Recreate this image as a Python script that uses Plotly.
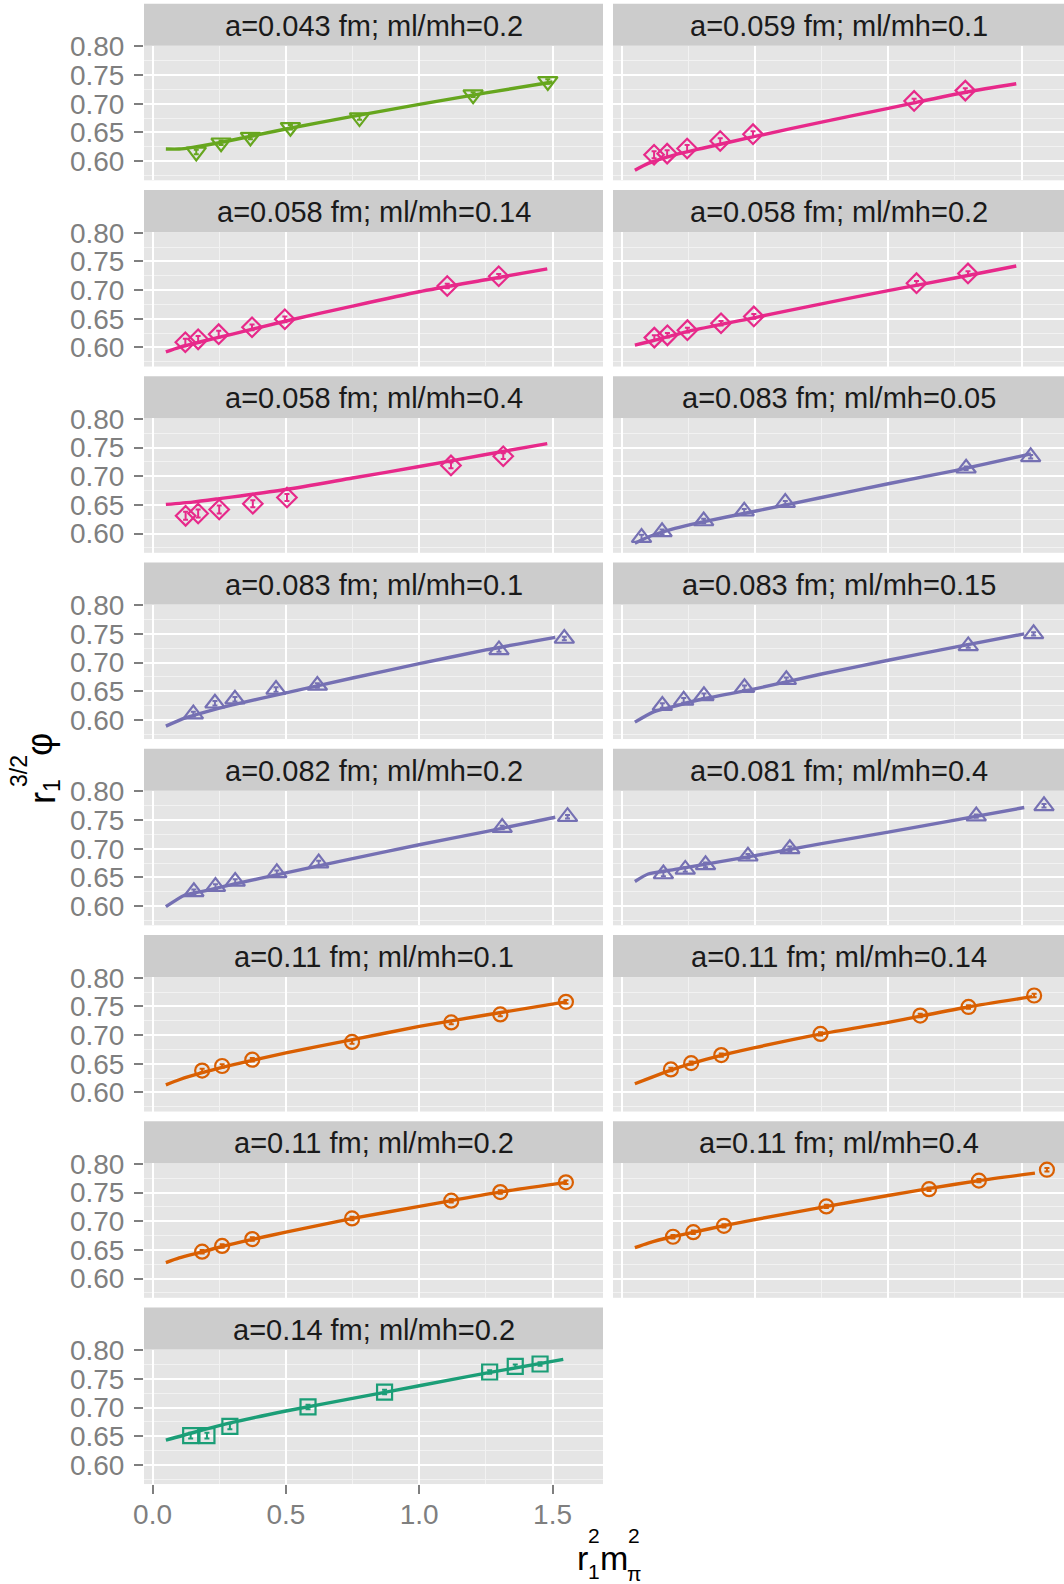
import plotly.graph_objects as go

# ---------------- data ----------------
titles = [
    "a=0.043 fm; ml/mh=0.2", "a=0.059 fm; ml/mh=0.1",
    "a=0.058 fm; ml/mh=0.14", "a=0.058 fm; ml/mh=0.2",
    "a=0.058 fm; ml/mh=0.4", "a=0.083 fm; ml/mh=0.05",
    "a=0.083 fm; ml/mh=0.1", "a=0.083 fm; ml/mh=0.15",
    "a=0.082 fm; ml/mh=0.2", "a=0.081 fm; ml/mh=0.4",
    "a=0.11 fm; ml/mh=0.1", "a=0.11 fm; ml/mh=0.14",
    "a=0.11 fm; ml/mh=0.2", "a=0.11 fm; ml/mh=0.4",
    "a=0.14 fm; ml/mh=0.2",
]
groups = ["a043", "a058", "a058", "a058", "a058", "a083", "a083", "a083",
          "a083", "a083", "a11", "a11", "a11", "a11", "a14"]

# a=0.043, ml/mh=0.2
x_043_02 = [0.164, 0.257, 0.367, 0.517, 0.776, 1.202, 1.482]
y_043_02 = [0.616, 0.632, 0.642, 0.659, 0.676, 0.716, 0.739]
e_043_02 = [0.004, 0.004, 0.004, 0.004, 0.004, 0.004, 0.004]
fx_043_02 = [0.05, 0.1, 0.15, 0.25, 0.5, 0.75, 1.0, 1.25, 1.5]
fy_043_02 = [0.621, 0.621, 0.624, 0.632, 0.656, 0.678, 0.699, 0.719, 0.738]

# a=0.059, ml/mh=0.1
x_059_01 = [0.122, 0.171, 0.246, 0.370, 0.493, 1.097, 1.289]
y_059_01 = [0.611, 0.613, 0.622, 0.635, 0.647, 0.705, 0.723]
e_059_01 = [0.006, 0.006, 0.006, 0.005, 0.005, 0.004, 0.004]
fx_059_01 = [0.05, 0.1, 0.2, 0.3, 0.5, 0.75, 1.0, 1.1, 1.3, 1.48]
fy_059_01 = [0.584, 0.596, 0.611, 0.622, 0.643, 0.668, 0.692, 0.702, 0.721, 0.735]

# a=0.058, ml/mh=0.14
x_058_014 = [0.123, 0.171, 0.248, 0.373, 0.496, 1.105, 1.298]
y_058_014 = [0.609, 0.614, 0.623, 0.635, 0.649, 0.707, 0.724]
e_058_014 = [0.006, 0.006, 0.006, 0.005, 0.005, 0.004, 0.004]
fx_058_014 = [0.05, 0.1, 0.2, 0.3, 0.5, 0.75, 1.0, 1.25, 1.48]
fy_058_014 = [0.592, 0.600, 0.612, 0.623, 0.646, 0.672, 0.697, 0.718, 0.737]

# a=0.058, ml/mh=0.2
x_058_02 = [0.123, 0.172, 0.247, 0.373, 0.496, 1.106, 1.299]
y_058_02 = [0.617, 0.621, 0.630, 0.642, 0.654, 0.712, 0.729]
e_058_02 = [0.004, 0.004, 0.004, 0.004, 0.004, 0.004, 0.004]
fx_058_02 = [0.05, 0.12, 0.25, 0.5, 0.75, 1.0, 1.25, 1.48]
fy_058_02 = [0.604, 0.612, 0.628, 0.652, 0.676, 0.699, 0.721, 0.742]

# a=0.058, ml/mh=0.4
x_058_04 = [0.124, 0.171, 0.250, 0.376, 0.504, 1.119, 1.315]
y_058_04 = [0.631, 0.635, 0.642, 0.652, 0.663, 0.719, 0.735]
e_058_04 = [0.007, 0.007, 0.007, 0.006, 0.006, 0.005, 0.005]
fx_058_04 = [0.05, 0.15, 0.25, 0.5, 0.75, 1.0, 1.25, 1.48]
fy_058_04 = [0.651, 0.655, 0.661, 0.677, 0.697, 0.717, 0.738, 0.757]

# a=0.083, ml/mh=0.05
x_083_005 = [0.075, 0.152, 0.308, 0.460, 0.614, 1.292, 1.534]
y_083_005 = [0.593, 0.603, 0.622, 0.639, 0.654, 0.714, 0.734]
e_083_005 = [0.005, 0.004, 0.004, 0.004, 0.003, 0.003, 0.003]
fx_083_005 = [0.05, 0.1, 0.2, 0.3, 0.5, 0.75, 1.0, 1.25, 1.535]
fy_083_005 = [0.583, 0.594, 0.609, 0.620, 0.639, 0.663, 0.687, 0.710, 0.739]

# a=0.083, ml/mh=0.1
x_083_01 = [0.153, 0.234, 0.309, 0.463, 0.618, 1.299, 1.544]
y_083_01 = [0.610, 0.629, 0.636, 0.653, 0.660, 0.722, 0.742]
e_083_01 = [0.004, 0.004, 0.004, 0.004, 0.004, 0.003, 0.003]
fx_083_01 = [0.05, 0.12, 0.2, 0.3, 0.5, 0.75, 1.0, 1.25, 1.51]
fy_083_01 = [0.589, 0.603, 0.614, 0.626, 0.647, 0.673, 0.698, 0.722, 0.744]

# a=0.083, ml/mh=0.15
x_083_015 = [0.153, 0.233, 0.309, 0.461, 0.618, 1.300, 1.545]
y_083_015 = [0.625, 0.634, 0.642, 0.656, 0.670, 0.729, 0.750]
e_083_015 = [0.004, 0.004, 0.004, 0.004, 0.004, 0.003, 0.003]
fx_083_015 = [0.05, 0.12, 0.2, 0.3, 0.5, 0.75, 1.0, 1.25, 1.51]
fy_083_015 = [0.596, 0.614, 0.624, 0.636, 0.654, 0.680, 0.704, 0.727, 0.750]

# a=0.082, ml/mh=0.2
x_082_02 = [0.155, 0.236, 0.310, 0.466, 0.623, 1.311, 1.556]
y_082_02 = [0.625, 0.634, 0.643, 0.658, 0.675, 0.737, 0.756]
e_082_02 = [0.004, 0.004, 0.004, 0.004, 0.004, 0.003, 0.003]
fx_082_02 = [0.05, 0.12, 0.2, 0.3, 0.5, 0.75, 1.0, 1.25, 1.51]
fy_082_02 = [0.599, 0.619, 0.627, 0.638, 0.658, 0.683, 0.707, 0.730, 0.755]

# a=0.081, ml/mh=0.4
x_081_04 = [0.157, 0.239, 0.315, 0.474, 0.631, 1.330, 1.584]
y_081_04 = [0.656, 0.664, 0.672, 0.687, 0.700, 0.757, 0.775]
e_081_04 = [0.004, 0.004, 0.004, 0.004, 0.004, 0.003, 0.003]
fx_081_04 = [0.05, 0.1, 0.2, 0.3, 0.5, 0.75, 1.0, 1.25, 1.51]
fy_081_04 = [0.643, 0.656, 0.664, 0.672, 0.688, 0.709, 0.729, 0.750, 0.772]

# a=0.11, ml/mh=0.1
x_11_01 = [0.186, 0.261, 0.374, 0.748, 1.120, 1.304, 1.550]
y_11_01 = [0.638, 0.646, 0.657, 0.688, 0.722, 0.736, 0.758]
e_11_01 = [0.003, 0.003, 0.003, 0.003, 0.003, 0.003, 0.003]
fx_11_01 = [0.05, 0.1, 0.2, 0.3, 0.5, 0.75, 1.0, 1.25, 1.55]
fy_11_01 = [0.613, 0.622, 0.636, 0.648, 0.669, 0.692, 0.715, 0.735, 0.758]

# a=0.11, ml/mh=0.14
x_11_014 = [0.185, 0.261, 0.374, 0.746, 1.120, 1.301, 1.547]
y_11_014 = [0.640, 0.651, 0.665, 0.702, 0.734, 0.749, 0.769]
e_11_014 = [0.003, 0.003, 0.003, 0.003, 0.003, 0.003, 0.003]
fx_11_014 = [0.05, 0.1, 0.18, 0.26, 0.37, 0.5, 0.75, 1.0, 1.12, 1.3, 1.54]
fy_11_014 = [0.615, 0.624, 0.638, 0.650, 0.664, 0.678, 0.702, 0.722, 0.733, 0.749, 0.767]

# a=0.11, ml/mh=0.2
x_11_02 = [0.186, 0.261, 0.374, 0.748, 1.120, 1.304, 1.550]
y_11_02 = [0.647, 0.657, 0.669, 0.705, 0.736, 0.751, 0.768]
e_11_02 = [0.003, 0.003, 0.003, 0.003, 0.003, 0.003, 0.003]
fx_11_02 = [0.05, 0.1, 0.19, 0.26, 0.37, 0.5, 0.75, 1.0, 1.12, 1.3, 1.55]
fy_11_02 = [0.628, 0.636, 0.647, 0.656, 0.668, 0.681, 0.705, 0.726, 0.736, 0.751, 0.768]

# a=0.11, ml/mh=0.4
x_11_04 = [0.193, 0.269, 0.384, 0.768, 1.153, 1.340, 1.595]
y_11_04 = [0.673, 0.681, 0.692, 0.726, 0.756, 0.771, 0.790]
e_11_04 = [0.003, 0.003, 0.003, 0.003, 0.003, 0.003, 0.003]
fx_11_04 = [0.05, 0.1, 0.19, 0.27, 0.38, 0.5, 0.77, 1.0, 1.15, 1.34, 1.55]
fy_11_04 = [0.654, 0.662, 0.673, 0.681, 0.692, 0.703, 0.726, 0.745, 0.757, 0.771, 0.784]

# a=0.14, ml/mh=0.2
x_14_02 = [0.143, 0.204, 0.290, 0.583, 0.870, 1.264, 1.360, 1.453]
y_14_02 = [0.651, 0.651, 0.667, 0.701, 0.727, 0.762, 0.772, 0.776]
e_14_02 = [0.005, 0.005, 0.005, 0.004, 0.004, 0.003, 0.003, 0.003]
fx_14_02 = [0.05, 0.15, 0.3, 0.5, 0.75, 1.0, 1.25, 1.54]
fy_14_02 = [0.643, 0.656, 0.674, 0.694, 0.716, 0.738, 0.760, 0.784]

x_ticks = [0.0, 0.5, 1.0, 1.5]
x_ticktext = ["0.0", "0.5", "1.0", "1.5"]
x_minor = [0.25, 0.75, 1.25]
y_ticks = [0.60, 0.65, 0.70, 0.75, 0.80]
y_ticktext = ["0.60", "0.65", "0.70", "0.75", "0.80"]
y_minor = [0.575, 0.625, 0.675, 0.725, 0.775]

points_x = [x_043_02, x_059_01, x_058_014, x_058_02, x_058_04, x_083_005, x_083_01,
            x_083_015, x_082_02, x_081_04, x_11_01, x_11_014, x_11_02, x_11_04, x_14_02]
points_y = [y_043_02, y_059_01, y_058_014, y_058_02, y_058_04, y_083_005, y_083_01,
            y_083_015, y_082_02, y_081_04, y_11_01, y_11_014, y_11_02, y_11_04, y_14_02]
points_e = [e_043_02, e_059_01, e_058_014, e_058_02, e_058_04, e_083_005, e_083_01,
            e_083_015, e_082_02, e_081_04, e_11_01, e_11_014, e_11_02, e_11_04, e_14_02]
fits_x = [fx_043_02, fx_059_01, fx_058_014, fx_058_02, fx_058_04, fx_083_005, fx_083_01,
          fx_083_015, fx_082_02, fx_081_04, fx_11_01, fx_11_014, fx_11_02, fx_11_04, fx_14_02]
fits_y = [fy_043_02, fy_059_01, fy_058_014, fy_058_02, fy_058_04, fy_083_005, fy_083_01,
          fy_083_015, fy_082_02, fy_081_04, fy_11_01, fy_11_014, fy_11_02, fy_11_04, fy_14_02]

# ---------------- styles ----------------
style = {
    "a043": dict(color="#66A61E", symbol="triangle-down-open", size=17),
    "a058": dict(color="#E7298A", symbol="diamond-open", size=15),
    "a083": dict(color="#7570B3", symbol="triangle-up-open", size=17),
    "a11": dict(color="#D95F02", symbol="circle-open", size=14),
    "a14": dict(color="#1B9E77", symbol="square-open", size=15),
}

W, H = 1064, 1584
FONT = "Liberation Sans, Arial, Helvetica, sans-serif"
col_left = [144, 613]
col_right = [603, 1064]
x_range = [[-0.032, 1.689], [-0.032, 1.659]]
y_range = [0.5665, 0.8012]
row_pitch = 186.25
strip_top0 = 3.8
strip_h = 42
panel_h = 134.5

fig = go.Figure()
layout = dict(
    template="none",
    width=W, height=H, margin=dict(l=0, r=0, t=0, b=0, pad=0, autoexpand=False),
    paper_bgcolor="white", plot_bgcolor="#E5E5E5",
    showlegend=False, font=dict(family=FONT),
)
shapes, annotations = [], []

for i, title in enumerate(titles):
    r, c = divmod(i, 2)
    st = strip_top0 + r * row_pitch
    pt = st + strip_h
    pb = pt + panel_h
    xd = [col_left[c] / W, col_right[c] / W]
    yd = [1 - pb / H, 1 - pt / H]
    k = "" if i == 0 else str(i + 1)
    is_left = c == 0
    is_bottom = i == len(titles) - 1
    layout["xaxis" + k] = dict(
        domain=xd, anchor="y" + k, range=x_range[c], automargin=False,
        tickvals=x_ticks, ticktext=x_ticktext,
        showticklabels=is_bottom, ticks="outside" if is_bottom else "",
        ticklen=9, tickwidth=2, tickcolor="#7F7F7F",
        tickfont=dict(size=28, color="#7F7F7F", family=FONT),
        ticklabelstandoff=-4,
        showgrid=True, gridcolor="white", gridwidth=2,
        minor=dict(tickvals=x_minor, showgrid=True, gridcolor="#F2F2F2",
                   gridwidth=1, ticks=""),
        zeroline=False, showline=False, fixedrange=True,
    )
    layout["yaxis" + k] = dict(
        domain=yd, anchor="x" + k, range=y_range, automargin=False,
        tickvals=y_ticks, ticktext=y_ticktext,
        showticklabels=is_left, ticks="outside" if is_left else "",
        ticklen=9, tickwidth=2, tickcolor="#7F7F7F",
        tickfont=dict(size=28, color="#7F7F7F", family=FONT),
        ticklabelstandoff=4,
        showgrid=True, gridcolor="white", gridwidth=2,
        minor=dict(tickvals=y_minor, showgrid=True, gridcolor="#F2F2F2",
                   gridwidth=1, ticks=""),
        zeroline=False, showline=False, fixedrange=True,
    )
    shapes.append(dict(type="rect", xref="paper", yref="paper",
                       x0=xd[0], x1=xd[1], y0=1 - pt / H, y1=1 - st / H,
                       fillcolor="#CCCCCC", line=dict(width=0), layer="below"))
    annotations.append(dict(text=title, xref="paper", yref="paper",
                            x=(xd[0] + xd[1]) / 2, y=1 - (st + strip_h / 2 + 1) / H,
                            xanchor="center", yanchor="middle", showarrow=False,
                            font=dict(size=29, color="#1A1A1A", family=FONT)))

    s = style[groups[i]]
    fig.add_trace(go.Scatter(
        x=points_x[i], y=points_y[i], mode="markers",
        xaxis="x" + k, yaxis="y" + k,
        marker=dict(symbol=s["symbol"], size=s["size"], color=s["color"],
                    line=dict(width=2.2, color=s["color"])),
        error_y=dict(type="data", array=points_e[i], visible=True,
                     color=s["color"], thickness=2, width=2.5),
        cliponaxis=False,
    ))
    fig.add_trace(go.Scatter(
        x=fits_x[i], y=fits_y[i], mode="lines",
        xaxis="x" + k, yaxis="y" + k,
        line=dict(color=s["color"], width=3.4, shape="spline", smoothing=0.6),
    ))


def txt(t, xp, yp, size, angle=0):
    return dict(text=t, xref="paper", yref="paper", x=xp / W, y=1 - yp / H,
                xanchor="center", yanchor="middle", showarrow=False,
                textangle=angle, font=dict(size=size, color="black", family=FONT))


# x-axis title  r_1^2 m_pi^2
annotations += [
    txt("r", 582, 1558, 34), txt("2", 594, 1535, 21), txt("1", 594, 1571, 21),
    txt("m", 614, 1558, 34), txt("2", 634, 1535, 21), txt("π", 634, 1573, 21),
]
# y-axis title  r_1^{3/2} phi (rotated)
annotations += [
    txt("r", 42, 798, 36, -90), txt("1", 52, 786, 23, -90),
    txt("3/2", 19, 771, 23, -90), txt("φ", 39, 745, 36, -90),
]

layout["shapes"] = shapes
layout["annotations"] = annotations
fig.update_layout(**layout)
fig.write_html("out.html")
